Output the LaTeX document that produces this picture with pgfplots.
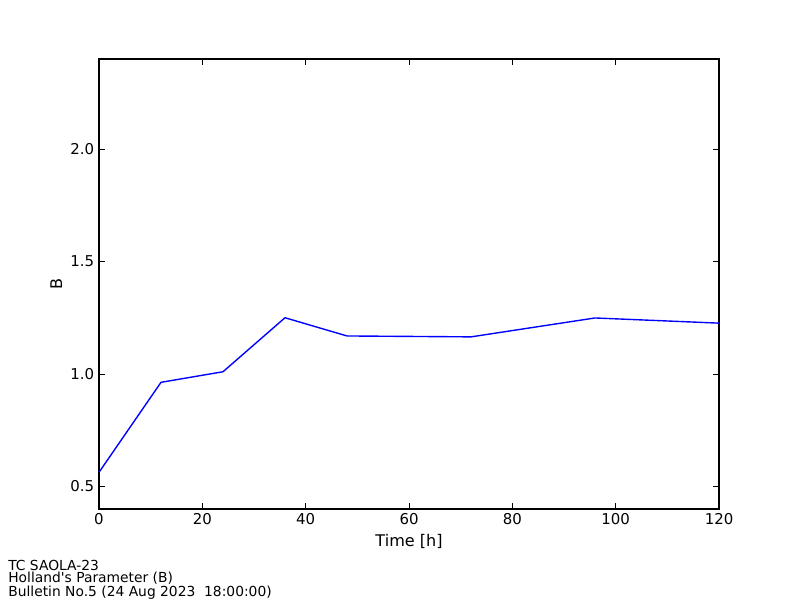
\documentclass[border=0pt]{standalone}
\usepackage{pgfplots}
\pgfplotsset{compat=1.18}
\usepackage{fontspec}
\setmainfont{DejaVu Sans}[Ligatures=TeXOff]
\begin{document}
\begin{tikzpicture}[x=1bp,y=1bp]
\path (-71.28,-65.52) rectangle (504.72,366.48);
\begin{axis}[
  at={(0,0)}, anchor=south west,
  scale only axis, width=446.4bp, height=324bp,
  xmin=0, xmax=120, ymin=0.4, ymax=2.4,
  xtick={0,20,40,60,80,100,120},
  ytick={0.5,1.0,1.5,2.0},
  yticklabel style={/pgf/number format/.cd,fixed,fixed zerofill,precision=1},
  /pgf/number format/assume math mode=true,
  tick align=inside,
  major tick length=4bp,
  minor tick num=0,
  axis line style={line width=0.8bp},
  every tick/.style={black, line width=0.6bp},
  tick label style={font=\fontsize{10.8}{13}\selectfont},
  label style={font=\fontsize{11.6}{14}\selectfont},
  xlabel={Time [h]},
  ylabel={B},
  xlabel style={yshift=0bp},
  ylabel style={yshift=-1bp},
  clip=false,
]
\addplot[color={rgb,1:red,0;green,0;blue,1}, line width=1bp, mark=none] coordinates {
(0,0.563) (12,0.963) (24,1.010) (36,1.250) (48,1.169) (72,1.165) (96,1.249) (120,1.226)
};
\end{axis}
\node[anchor=north west, align=left, inner sep=0pt, font=\fontsize{10}{8.64}\selectfont] at (-65.5,-36.7) {TC SAOLA-23\\Holland's Parameter (B)\\Bulletin No.5 (24 Aug 2023\ \ 18:00:00)};
\end{tikzpicture}
\end{document}
